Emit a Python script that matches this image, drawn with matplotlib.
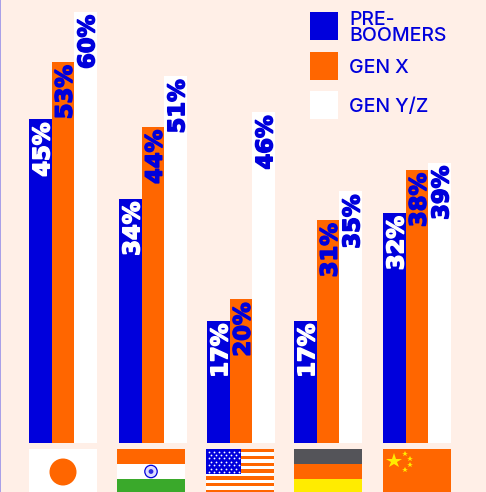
import numpy as np
import matplotlib
matplotlib.use('Agg')
import matplotlib.pyplot as plt
import matplotlib.patches as mpatch
import matplotlib.patheffects as pe

countries = ['Japan', 'India', 'USA', 'Germany', 'China']
pre_boomers = [45, 34, 17, 17, 32]
gen_x = [53, 44, 20, 31, 38]
gen_yz = [60, 51, 46, 35, 39]
legend_labels = ['PRE-\nBOOMERS', 'GEN X', 'GEN Y/Z']

BG = '#FFEFE7'
BLUE = '#0000DC'
ORANGE = '#FF6600'
WHITE = '#FFFFFF'

W, H = 486, 492
BASE = 443
PX_PER_PCT = 7.19
group_left = [29, 119, 207, 294, 383]
bar_w = 22.5

fig = plt.figure(figsize=(W / 100, H / 100), dpi=100, facecolor=BG)

# full figure axes in pixels, for flags and legend
pix = fig.add_axes([0, 0, 1, 1])
pix.set_xlim(0, W)
pix.set_ylim(H, 0)
pix.axis('off')

# bars get their own axes with a percent scale
ax = fig.add_axes([0, (H - BASE) / H, 1, BASE / H])
ax.set_xlim(0, W)
ax.set_ylim(0, BASE / PX_PER_PCT)
ax.axis('off')
ax.patch.set_alpha(0)

series = [pre_boomers, gen_x, gen_yz]
colors = [BLUE, ORANGE, WHITE]
text_colors = [WHITE, BLUE, BLUE]
for s, vals in enumerate(series):
    xs = [g + s * bar_w for g in group_left]
    ax.bar(xs, vals, width=bar_w, align='edge', color=colors[s], linewidth=0)
    for x, v in zip(xs, vals):
        ax.annotate(f'{v}%', (x + bar_w / 2, v), xytext=(2.5, -3), textcoords='offset pixels',
                    rotation=90, ha='center', va='top', fontsize=16.3, fontweight='bold',
                    family='DejaVu Sans', color=text_colors[s],
                    path_effects=[pe.withStroke(linewidth=1.1, foreground=text_colors[s])])

# left edge line
pix.add_patch(mpatch.Rectangle((0, 0), 1, H, color='#A9A0E8', lw=0))

# legend
legend_y = [12, 52, 91]
legend_text_y = [28, 68, 107]
for y, ty, c, lab in zip(legend_y, legend_text_y, colors, legend_labels):
    pix.add_patch(mpatch.Rectangle((310, y), 28, 28, color=c, lw=0))
    pix.text(349, ty, lab, ha='left', va='center', fontsize=14, color=BLUE, family='Inter',
             fontweight='medium', linespacing=0.86)

FT, FB = 449, 492


def band(x0, x1, y0, y1, c):
    pix.add_patch(mpatch.Rectangle((x0, y0), x1 - x0, y1 - y0, color=c, lw=0))


# Japan
band(29, 97, FT, FB, WHITE)
pix.add_patch(mpatch.Circle((63, 472), 13.5, color=ORANGE, lw=0))

# India
band(117, 185, FT, 464, ORANGE)
band(117, 185, 464, 479, WHITE)
band(117, 185, 479, FB, '#3AA92B')
pix.add_patch(mpatch.Circle((151, 471.5), 6.2, fc='#DDDDFF', ec=BLUE, lw=0.9))
pix.add_patch(mpatch.Circle((151, 471.5), 2.4, color=BLUE, alpha=0.8, lw=0))

# USA
band(206, 274, FT, FB, WHITE)
y = FT
while y < FB:
    band(206, 274, y, min(y + 3.4, FB), ORANGE)
    y += 6.8
band(206, 241, FT, 474, BLUE)
for r in range(7):
    for c in range(7 - r % 2):
        pix.plot(208.5 + c * 5 + (r % 2) * 2.5, 451.5 + r * 3.4, 'o', ms=1.3, color=WHITE, mew=0)

# Germany
band(294, 362, FT, 464, '#545459')
band(294, 362, 464, 479, ORANGE)
band(294, 362, 479, FB, '#FFEC00')

# China
band(383, 451, FT, FB, ORANGE)
pix.plot(394, 460.5, '*', ms=11.5, color='#FFEC00', mew=0)
for sx, sy in [(405, 453.5), (410, 458.5), (410, 464.5), (405, 469.5)]:
    pix.plot(sx, sy, '*', ms=3.8, color='#FFEC00', mew=0)

fig.savefig('out.png', dpi=100, facecolor=BG)
